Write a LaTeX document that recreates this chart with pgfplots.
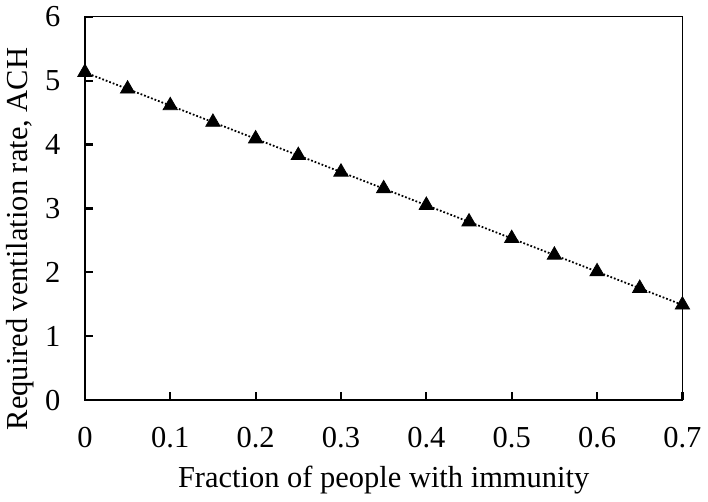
\documentclass[border=0pt]{standalone}
\usepackage{pgfplots}
\pgfplotsset{compat=1.18}
\usepackage{fontspec}
\setmainfont{Liberation Serif}
\begin{document}
\begin{tikzpicture}
\begin{axis}[
 scale only axis,width=304pt,height=195pt,
 xmin=0,xmax=0.7,ymin=0,ymax=6,
 xtick={0,0.1,...,0.7},ytick={0,1,...,6},
 xticklabels={0,0.1,0.2,0.3,0.4,0.5,0.6,0.7},
 xtick pos=bottom,ytick pos=left,tick align=inside,
 major tick length=4pt,
 tick style={black,line width=1.1pt},
 axis line style={line width=0.6pt},
 xlabel={Fraction of people with immunity},
 ylabel={Required ventilation rate, ACH},
 tick label style={font=\fontsize{15.5}{17}\selectfont},
 label style={font=\fontsize{15.5}{17}\selectfont},
 /pgf/number format/assume math mode=true,
 xticklabel style={anchor=center,yshift=-19pt},
 yticklabel style={anchor=east,xshift=-9pt},
 xlabel style={at={(axis description cs:0.5,-0.21)},anchor=center},
 ylabel style={at={(axis description cs:-0.108,0.42)},anchor=center},
 clip=false]
\addplot[black,densely dotted,line width=0.9pt] coordinates {
(0,5.13) (0.7,1.49)};
\addplot[only marks,mark=triangle*,mark size=4.2pt,black] coordinates {
(0,5.13) (0.05,4.87) (0.1,4.61) (0.15,4.35) (0.2,4.09) (0.25,3.83)
(0.3,3.57) (0.35,3.31) (0.4,3.05) (0.45,2.79) (0.5,2.53) (0.55,2.27)
(0.6,2.01) (0.65,1.75) (0.7,1.49)};
\draw[line width=1.25pt] (rel axis cs:0,1) -- (rel axis cs:0,0) -- (rel axis cs:1,0);
\end{axis}
\end{tikzpicture}
\end{document}
